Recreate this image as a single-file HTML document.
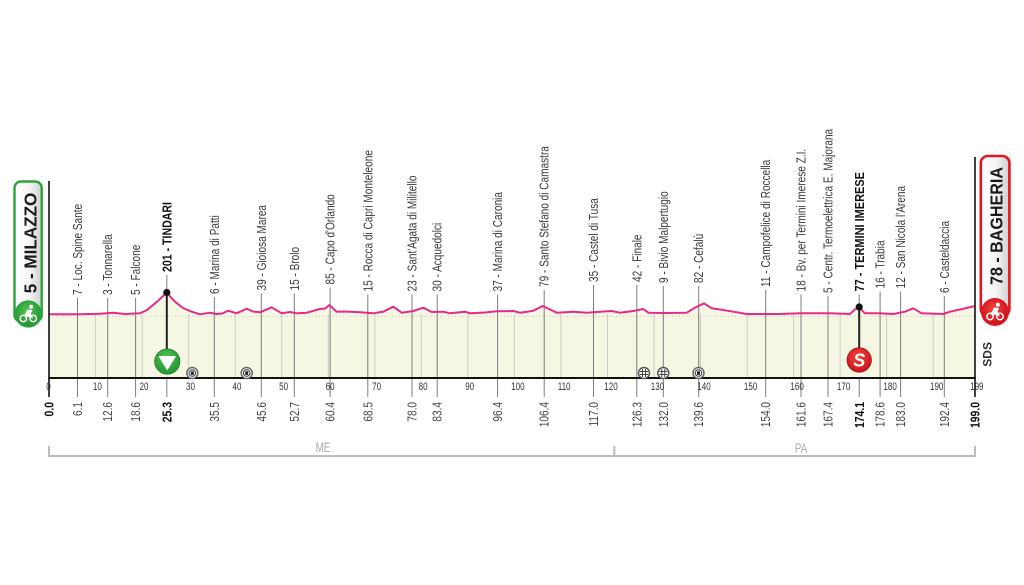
<!DOCTYPE html>
<html>
<head>
<meta charset="utf-8">
<style>
html,body{margin:0;padding:0;background:#ffffff;}
svg{display:block;}
</style>
</head>
<body>
<svg width="1024" height="585" viewBox="0 0 1024 585" xmlns="http://www.w3.org/2000/svg" font-family="'Liberation Sans', sans-serif">
<defs>
  <linearGradient id="boxg" x1="0" y1="0" x2="1" y2="0">
    <stop offset="0" stop-color="#ffffff"/>
    <stop offset="0.55" stop-color="#f4f4f4"/>
    <stop offset="1" stop-color="#cfcfcf"/>
  </linearGradient>
  <radialGradient id="greeng" cx="0.45" cy="0.35" r="0.7">
    <stop offset="0" stop-color="#52c452"/>
    <stop offset="1" stop-color="#1f9030"/>
  </radialGradient>
  <radialGradient id="redg" cx="0.45" cy="0.35" r="0.7">
    <stop offset="0" stop-color="#f2443c"/>
    <stop offset="1" stop-color="#c8101a"/>
  </radialGradient>
</defs>

<rect x="0" y="0" width="1024" height="585" fill="#ffffff"/>

<!-- profile fill -->
<path fill="#f6f7e3" d="M49,314.3 L80,314.2 L100,313.8 L113,312.7 L125,314 L140,313.3 L147,310 L157,301.7 L166.7,292.7 L175,301.7 L183,308 L191.7,311.7 L200,314.3 L210,312.7 L216.7,314 L222,313.5 L228.3,310.7 L236.7,313.3 L246.7,308.7 L253,311.5 L260,312.3 L271.7,307.3 L281.7,313.3 L290,312 L296.7,313.3 L306.7,312.7 L320,309 L325,308.5 L329.3,305 L336.7,311.7 L345,311.5 L350,311.7 L360,312.3 L373.3,313.3 L383.3,311.7 L393.3,306.7 L401.7,312.7 L413.3,311 L423.3,307.7 L431.7,312 L443.3,311.7 L450,313.3 L465,311.7 L470,313.3 L485,312.5 L496.7,311.3 L513.3,311 L520,312.7 L533.3,310.7 L542.7,306 L556.7,312.7 L573.3,311.7 L586.7,312.7 L600,311.7 L611.7,311 L620,312.7 L635,310.7 L643.3,309 L648.3,312.7 L663.3,313 L686.7,312.7 L695,307.7 L704,303.3 L711.7,308.3 L720,309.5 L733.3,311.7 L746.7,314 L780,314 L800,313.3 L830,313.3 L850,314 L855,309.3 L859,307.5 L865,313.3 L880,313.3 L893.3,314 L905,311.7 L913.3,308.3 L921.7,313.3 L943.3,314 L950,311.7 L960,309.5 L975,306 L975,378 L49,378 Z"/>

<!-- dotted zero line -->
<line x1="49" y1="316.3" x2="975" y2="316.3" stroke="#c4c4bc" stroke-width="1" stroke-dasharray="1,2.5"/>

<!-- 10 km grid lines -->
<g stroke="#cdcdc3" stroke-width="1">
  <line x1="95.6" y1="314" x2="95.6" y2="378"/>
  <line x1="142.2" y1="314" x2="142.2" y2="378"/>
  <line x1="188.7" y1="314" x2="188.7" y2="378"/>
  <line x1="235.2" y1="314" x2="235.2" y2="378"/>
  <line x1="281.8" y1="314" x2="281.8" y2="378"/>
  <line x1="328.3" y1="314" x2="328.3" y2="378"/>
  <line x1="374.8" y1="314" x2="374.8" y2="378"/>
  <line x1="421.3" y1="314" x2="421.3" y2="378"/>
  <line x1="467.9" y1="314" x2="467.9" y2="378"/>
  <line x1="514.4" y1="314" x2="514.4" y2="378"/>
  <line x1="560.9" y1="314" x2="560.9" y2="378"/>
  <line x1="607.5" y1="314" x2="607.5" y2="378"/>
  <line x1="654" y1="314" x2="654" y2="378"/>
  <line x1="700.5" y1="314" x2="700.5" y2="378"/>
  <line x1="747.1" y1="314" x2="747.1" y2="378"/>
  <line x1="793.6" y1="314" x2="793.6" y2="378"/>
  <line x1="840.1" y1="314" x2="840.1" y2="378"/>
  <line x1="886.6" y1="314" x2="886.6" y2="378"/>
  <line x1="933.2" y1="314" x2="933.2" y2="378"/>
</g>

<!-- place tick lines -->
<g stroke="#7c7c7c" stroke-width="1">
  <line x1="77.5" y1="298" x2="77.5" y2="397"/>
  <line x1="107.7" y1="298" x2="107.7" y2="397"/>
  <line x1="135.6" y1="298" x2="135.6" y2="397"/>
  <line x1="166.8" y1="275" x2="166.8" y2="292"/>
  <line x1="166.8" y1="378" x2="166.8" y2="397"/>
  <line x1="214.3" y1="297" x2="214.3" y2="397"/>
  <line x1="261.3" y1="293.5" x2="261.3" y2="397"/>
  <line x1="294.3" y1="293.5" x2="294.3" y2="397"/>
  <line x1="330.1" y1="287.5" x2="330.1" y2="397"/>
  <line x1="367.8" y1="294.5" x2="367.8" y2="397"/>
  <line x1="412" y1="294.5" x2="412" y2="397"/>
  <line x1="437.2" y1="294.5" x2="437.2" y2="397"/>
  <line x1="497.6" y1="294.5" x2="497.6" y2="397"/>
  <line x1="544.2" y1="290" x2="544.2" y2="397"/>
  <line x1="593.5" y1="285" x2="593.5" y2="397"/>
  <line x1="636.8" y1="285" x2="636.8" y2="397"/>
  <line x1="663.3" y1="286" x2="663.3" y2="397"/>
  <line x1="698.7" y1="286" x2="698.7" y2="397"/>
  <line x1="765.7" y1="290" x2="765.7" y2="397"/>
  <line x1="801" y1="294.5" x2="801" y2="397"/>
  <line x1="828" y1="296" x2="828" y2="397"/>
  <line x1="859.2" y1="294.5" x2="859.2" y2="307"/>
  <line x1="859.2" y1="378" x2="859.2" y2="397"/>
  <line x1="880.1" y1="291.5" x2="880.1" y2="397"/>
  <line x1="900.6" y1="291.5" x2="900.6" y2="397"/>
  <line x1="944.3" y1="296" x2="944.3" y2="397"/>
</g>

<!-- black lines from summit dots to icons -->
<line x1="166.8" y1="292.5" x2="166.8" y2="352" stroke="#222" stroke-width="2"/>
<line x1="859.2" y1="307" x2="859.2" y2="350" stroke="#222" stroke-width="2"/>

<!-- profile line -->
<path fill="none" stroke="#e62a8a" stroke-width="2" stroke-linejoin="round" d="M49,314.3 L80,314.2 L100,313.8 L113,312.7 L125,314 L140,313.3 L147,310 L157,301.7 L166.7,292.7 L175,301.7 L183,308 L191.7,311.7 L200,314.3 L210,312.7 L216.7,314 L222,313.5 L228.3,310.7 L236.7,313.3 L246.7,308.7 L253,311.5 L260,312.3 L271.7,307.3 L281.7,313.3 L290,312 L296.7,313.3 L306.7,312.7 L320,309 L325,308.5 L329.3,305 L336.7,311.7 L345,311.5 L350,311.7 L360,312.3 L373.3,313.3 L383.3,311.7 L393.3,306.7 L401.7,312.7 L413.3,311 L423.3,307.7 L431.7,312 L443.3,311.7 L450,313.3 L465,311.7 L470,313.3 L485,312.5 L496.7,311.3 L513.3,311 L520,312.7 L533.3,310.7 L542.7,306 L556.7,312.7 L573.3,311.7 L586.7,312.7 L600,311.7 L611.7,311 L620,312.7 L635,310.7 L643.3,309 L648.3,312.7 L663.3,313 L686.7,312.7 L695,307.7 L704,303.3 L711.7,308.3 L720,309.5 L733.3,311.7 L746.7,314 L780,314 L800,313.3 L830,313.3 L850,314 L855,309.3 L859,307.5 L865,313.3 L880,313.3 L893.3,314 L905,311.7 L913.3,308.3 L921.7,313.3 L943.3,314 L950,311.7 L960,309.5 L975,306"/>

<!-- summit dots -->
<circle cx="166.8" cy="292.5" r="3.6" fill="#111"/>
<circle cx="859.2" cy="307" r="3.6" fill="#111"/>

<!-- axes -->
<line x1="49" y1="181" x2="49" y2="397" stroke="#111" stroke-width="1.6"/>
<line x1="975" y1="157" x2="975" y2="397" stroke="#111" stroke-width="1.6"/>
<line x1="48.2" y1="378" x2="975.8" y2="378" stroke="#111" stroke-width="2"/>

<!-- small axis icons -->
<g>
  <circle cx="192.3" cy="373" r="5.5" fill="#fff" stroke="#666" stroke-width="1.5"/>
  <circle cx="192.3" cy="373" r="3.3" fill="#fff" stroke="#333" stroke-width="1"/>
  <rect x="190.8" y="371.3" width="3" height="3.6" fill="#222"/>
  <circle cx="246.7" cy="373" r="5.5" fill="#fff" stroke="#666" stroke-width="1.5"/>
  <circle cx="246.7" cy="373" r="3.3" fill="#fff" stroke="#333" stroke-width="1"/>
  <rect x="245.2" y="371.3" width="3" height="3.6" fill="#222"/>
  <circle cx="698.5" cy="373" r="5.5" fill="#fff" stroke="#666" stroke-width="1.5"/>
  <circle cx="698.5" cy="373" r="3.3" fill="#fff" stroke="#333" stroke-width="1"/>
  <rect x="697" y="371.3" width="3" height="3.6" fill="#222"/>
  <circle cx="644" cy="373" r="5.5" fill="#fff" stroke="#555" stroke-width="1.5"/>
  <g stroke="#333" stroke-width="0.9">
    <line x1="642.5" y1="369" x2="642.5" y2="377"/><line x1="645.5" y1="369" x2="645.5" y2="377"/>
    <line x1="640" y1="371.5" x2="648" y2="371.5"/><line x1="640" y1="374.5" x2="648" y2="374.5"/>
  </g>
  <circle cx="663.3" cy="373" r="5.5" fill="#fff" stroke="#555" stroke-width="1.5"/>
  <g stroke="#333" stroke-width="0.9">
    <line x1="661.8" y1="369" x2="661.8" y2="377"/><line x1="664.8" y1="369" x2="664.8" y2="377"/>
    <line x1="659.3" y1="371.5" x2="667.3" y2="371.5"/><line x1="659.3" y1="374.5" x2="667.3" y2="374.5"/>
  </g>
</g>

<!-- green icon -->
<circle cx="167.3" cy="361.5" r="12.6" fill="url(#greeng)" stroke="#1c7a2a" stroke-width="0.8"/>
<polygon points="158.5,356 176.1,356 167.3,370.5" fill="#ffffff"/>

<!-- red S icon -->
<circle cx="859.2" cy="360" r="12.2" fill="url(#redg)" stroke="#9e0e14" stroke-width="0.8"/>
<text x="859.2" y="366.5" text-anchor="middle" font-size="18" font-weight="bold" font-style="italic" fill="#ffffff">S</text>

<!-- top labels -->
<g font-size="13" fill="#3a3a3a">
  <text transform="translate(82,295) rotate(-90) scale(0.775,1)">7 - Loc. Spine Sante</text>
  <text transform="translate(112.2,295) rotate(-90) scale(0.775,1)">3 - Tonnarella</text>
  <text transform="translate(140.1,295) rotate(-90) scale(0.775,1)">5 - Falcone</text>
  <text transform="translate(218.8,294) rotate(-90) scale(0.775,1)">6 - Marina di Patti</text>
  <text transform="translate(265.8,290.5) rotate(-90) scale(0.775,1)">39 - Gioiosa Marea</text>
  <text transform="translate(298.8,290.5) rotate(-90) scale(0.775,1)">15 - Brolo</text>
  <text transform="translate(334.6,284.5) rotate(-90) scale(0.775,1)">85 - Capo d'Orlando</text>
  <text transform="translate(372.3,291.5) rotate(-90) scale(0.775,1)">15 - Rocca di Capri Monteleone</text>
  <text transform="translate(416.5,291.5) rotate(-90) scale(0.775,1)">23 - Sant'Agata di Militello</text>
  <text transform="translate(441.7,291.5) rotate(-90) scale(0.775,1)">30 - Acquedolci</text>
  <text transform="translate(502.1,291.5) rotate(-90) scale(0.775,1)">37 - Marina di Caronia</text>
  <text transform="translate(548.7,287) rotate(-90) scale(0.775,1)">79 - Santo Stefano di Camastra</text>
  <text transform="translate(598,282) rotate(-90) scale(0.775,1)">35 - Castel di Tusa</text>
  <text transform="translate(641.3,282) rotate(-90) scale(0.775,1)">42 - Finale</text>
  <text transform="translate(667.8,283) rotate(-90) scale(0.775,1)">9 - Bivio Malpertugio</text>
  <text transform="translate(703.2,283) rotate(-90) scale(0.775,1)">82 - Cefalù</text>
  <text transform="translate(770.2,287) rotate(-90) scale(0.775,1)">11 - Campofelice di Roccella</text>
  <text transform="translate(805.5,291.5) rotate(-90) scale(0.775,1)">18 - Bv. per Termini Imerese Z.I.</text>
  <text transform="translate(832.5,293) rotate(-90) scale(0.775,1)">5 - Centr. Termoelettrica E. Majorana</text>
  <text transform="translate(884.6,288.5) rotate(-90) scale(0.775,1)">16 - Trabia</text>
  <text transform="translate(905.1,288.5) rotate(-90) scale(0.775,1)">12 - San Nicola l'Arena</text>
  <text transform="translate(948.8,293) rotate(-90) scale(0.775,1)">6 - Casteldaccia</text>
</g>
<g font-size="13" font-weight="bold" fill="#111">
  <text transform="translate(171.5,272) rotate(-90) scale(0.815,1)">201 - TINDARI</text>
  <text transform="translate(863.9,291.5) rotate(-90) scale(0.845,1)">77 - TERMINI IMERESE</text>
</g>

<!-- km axis numbers -->
<g font-size="11" fill="#333">
  <text transform="translate(46.2,390) scale(0.73,1)">0</text>
  <text transform="translate(92.9,390) scale(0.73,1)">10</text>
  <text transform="translate(139.5,390) scale(0.73,1)">20</text>
  <text transform="translate(186,390) scale(0.73,1)">30</text>
  <text transform="translate(232.5,390) scale(0.73,1)">40</text>
  <text transform="translate(279.1,390) scale(0.73,1)">50</text>
  <text transform="translate(325.6,390) scale(0.73,1)">60</text>
  <text transform="translate(372.1,390) scale(0.73,1)">70</text>
  <text transform="translate(418.6,390) scale(0.73,1)">80</text>
  <text transform="translate(465.2,390) scale(0.73,1)">90</text>
  <text transform="translate(511.2,390) scale(0.73,1)">100</text>
  <text transform="translate(557.7,390) scale(0.73,1)">110</text>
  <text transform="translate(604.3,390) scale(0.73,1)">120</text>
  <text transform="translate(650.8,390) scale(0.73,1)">130</text>
  <text transform="translate(697.3,390) scale(0.73,1)">140</text>
  <text transform="translate(743.9,390) scale(0.73,1)">150</text>
  <text transform="translate(790.4,390) scale(0.73,1)">160</text>
  <text transform="translate(836.9,390) scale(0.73,1)">170</text>
  <text transform="translate(883.4,390) scale(0.73,1)">180</text>
  <text transform="translate(930,390) scale(0.73,1)">190</text>
  <text transform="translate(970.1,390) scale(0.73,1)">199</text>
</g>

<!-- distance labels -->
<g font-size="13" fill="#444" text-anchor="end">
  <text transform="translate(82,402) rotate(-90) scale(0.775,1)">6.1</text>
  <text transform="translate(112.2,402) rotate(-90) scale(0.775,1)">12.6</text>
  <text transform="translate(140.1,402) rotate(-90) scale(0.775,1)">18.6</text>
  <text transform="translate(218.8,402) rotate(-90) scale(0.775,1)">35.5</text>
  <text transform="translate(265.8,402) rotate(-90) scale(0.775,1)">45.6</text>
  <text transform="translate(298.8,402) rotate(-90) scale(0.775,1)">52.7</text>
  <text transform="translate(334.6,402) rotate(-90) scale(0.775,1)">60.4</text>
  <text transform="translate(372.3,402) rotate(-90) scale(0.775,1)">68.5</text>
  <text transform="translate(416.5,402) rotate(-90) scale(0.775,1)">78.0</text>
  <text transform="translate(441.7,402) rotate(-90) scale(0.775,1)">83.4</text>
  <text transform="translate(502.1,402) rotate(-90) scale(0.775,1)">96.4</text>
  <text transform="translate(548.7,402) rotate(-90) scale(0.775,1)">106.4</text>
  <text transform="translate(598,402) rotate(-90) scale(0.775,1)">117.0</text>
  <text transform="translate(641.3,402) rotate(-90) scale(0.775,1)">126.3</text>
  <text transform="translate(667.8,402) rotate(-90) scale(0.775,1)">132.0</text>
  <text transform="translate(703.2,402) rotate(-90) scale(0.775,1)">139.6</text>
  <text transform="translate(770.2,402) rotate(-90) scale(0.775,1)">154.0</text>
  <text transform="translate(805.5,402) rotate(-90) scale(0.775,1)">161.6</text>
  <text transform="translate(832.5,402) rotate(-90) scale(0.775,1)">167.4</text>
  <text transform="translate(884.6,402) rotate(-90) scale(0.775,1)">178.6</text>
  <text transform="translate(905.1,402) rotate(-90) scale(0.775,1)">183.0</text>
  <text transform="translate(948.8,402) rotate(-90) scale(0.775,1)">192.4</text>
</g>
<g font-size="13" font-weight="bold" fill="#111" text-anchor="end">
  <text transform="translate(53.5,402) rotate(-90) scale(0.8,1)">0.0</text>
  <text transform="translate(171.5,402) rotate(-90) scale(0.8,1)">25.3</text>
  <text transform="translate(863.9,402) rotate(-90) scale(0.8,1)">174.1</text>
  <text transform="translate(979.5,402) rotate(-90) scale(0.8,1)">199.0</text>
</g>

<!-- province brackets -->
<g stroke="#bdbdbd" stroke-width="2" fill="none">
  <line x1="49" y1="456" x2="975" y2="456"/>
  <line x1="49" y1="446" x2="49" y2="457"/>
  <line x1="614.3" y1="446" x2="614.3" y2="457"/>
  <line x1="975" y1="446" x2="975" y2="457"/>
</g>
<g font-size="14" fill="#a9a9a9" text-anchor="middle">
  <text transform="translate(323,451.8) scale(0.7,1)">ME</text>
  <text transform="translate(801,452.8) scale(0.7,1)">PA</text>
</g>

<!-- start box -->
<rect x="14.5" y="181.5" width="27.2" height="140" rx="6.5" fill="url(#boxg)" stroke="#2aa33a" stroke-width="2.4"/>
<text transform="translate(36.7,293.3) rotate(-90) scale(0.95,1)" font-size="18" font-weight="bold" fill="#1a1a1a">5 - MILAZZO</text>
<circle cx="28.3" cy="314" r="13.6" fill="#2aa33a"/>
<circle cx="28.3" cy="314" r="11.6" fill="url(#greeng)"/>
<g fill="none" stroke="#ffffff" stroke-width="1.5">
  <circle cx="23.3" cy="318.5" r="3.2"/>
  <circle cx="33.3" cy="318.5" r="3.2"/>
</g>
<path d="M23.5,316.5 L27.5,309.5 L32.5,310 L30.8,313.8 L33.3,318.3 L28,316.8 Z" fill="#ffffff"/>
<circle cx="31.2" cy="306.8" r="2" fill="#ffffff"/>

<!-- finish box -->
<rect x="980.8" y="156" width="28.6" height="160" rx="7" fill="url(#boxg)" stroke="#e2161f" stroke-width="2.6"/>
<text transform="translate(1002.7,285) rotate(-90) scale(0.894,1)" font-size="18" font-weight="bold" fill="#1a1a1a">78 - BAGHERIA</text>
<circle cx="995" cy="312" r="14" fill="#e2161f"/>
<circle cx="995" cy="312" r="11.8" fill="url(#redg)"/>
<g fill="none" stroke="#ffffff" stroke-width="1.5">
  <circle cx="990" cy="316.5" r="3.2"/>
  <circle cx="1000" cy="316.5" r="3.2"/>
</g>
<path d="M990.2,314.5 L994.2,307.5 L999.2,308 L997.5,311.8 L1000,316.3 L994.7,314.8 Z" fill="#ffffff"/>
<circle cx="997.9" cy="304.8" r="2" fill="#ffffff"/>

<!-- SDS -->
<text transform="translate(991.7,366.7) rotate(-90)" font-size="12" font-weight="bold" fill="#333">SDS</text>

</svg>
</body>
</html>
